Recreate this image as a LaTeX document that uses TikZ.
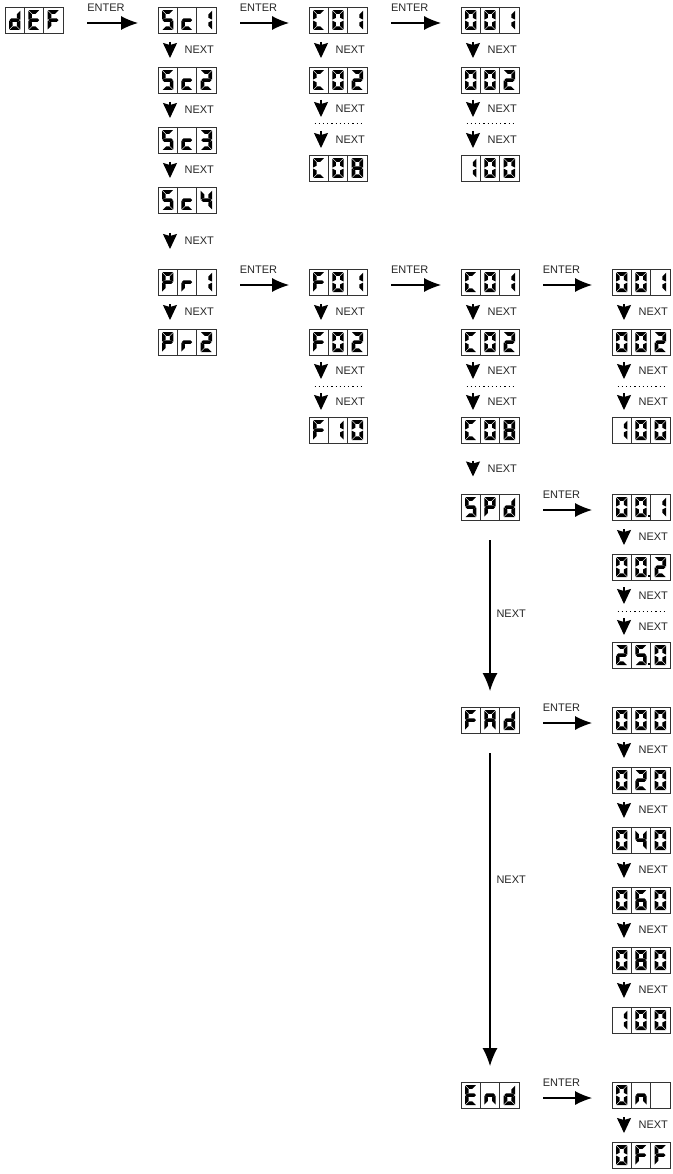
\documentclass[tikz,border=0pt]{standalone}
\usepackage{fontspec}
\setmainfont{Liberation Sans}
\usetikzlibrary{arrows.meta}

% Outlines of the seven segments of one digit cell; the origin is the
% top left corner of the cell and y grows downwards.
\newcommand{\defseg}[2]{\expandafter\def\csname lcdseg@#1\endcsname{\fill #2;}}
\defseg{a}{(4.5,3.2) -- (14.9,3.2) -- (11.3,6.8) -- (8.1,6.8) -- cycle}
\defseg{b}{(15.4,3.7) -- (11.8,7.3) -- (11.8,10.8) -- (15.4,12.6) -- cycle}
\defseg{c}{(15.4,13.6) -- (11.8,15.4) -- (11.8,18.9) -- (15.4,22.5) -- cycle}
\defseg{d}{(4.5,23) -- (14.9,23) -- (11.3,19.4) -- (8.1,19.4) -- cycle}
\defseg{e}{(4,13.6) -- (7.6,15.4) -- (7.6,18.9) -- (4,22.5) -- cycle}
\defseg{f}{(4,3.7) -- (7.6,7.3) -- (7.6,10.8) -- (4,12.6) -- cycle}
\defseg{g}{(4.5,13.1) -- (6.3,11.3) -- (13.1,11.3) -- (14.9,13.1) -- (13.1,14.9) -- (6.3,14.9) -- cycle}
\expandafter\def\csname lcdseg@z\endcsname{}

% Which segments light up for each character ('-' is an empty cell).
\newcommand{\defglyph}[2]{\expandafter\def\csname lcdglyph@#1\endcsname{#2}}
\defglyph{0}{a,b,c,d,e,f}
\defglyph{1}{b,c}
\defglyph{2}{a,b,d,e,g}
\defglyph{3}{a,b,c,d,g}
\defglyph{4}{b,c,f,g}
\defglyph{5}{a,c,d,f,g}
\defglyph{6}{a,c,d,e,f,g}
\defglyph{8}{a,b,c,d,e,f,g}
\defglyph{A}{a,b,c,e,f,g}
\defglyph{C}{a,d,e,f}
\defglyph{E}{a,d,e,f,g}
\defglyph{F}{a,e,f,g}
\defglyph{P}{a,b,e,f,g}
\defglyph{c}{d,e,g}
\defglyph{d}{b,c,d,e,g}
\defglyph{n}{c,e,g}
\defglyph{r}{e,g}
\defglyph{-}{z}

\newcommand{\lcdchar}[1]{%
  \edef\seglist{\csname lcdglyph@#1\endcsname}%
  \foreach \s in \seglist {\csname lcdseg@\s\endcsname}}

% A three digit display: [dot after the second digit]{name}{centre}{digits}
\newcommand{\lcd}[6][]{%
  \node[lcdbox] (#2) at #3 {};
  \begin{scope}[shift={(#2.north west)}]
    \draw[lcdframe] (19.33,0) -- (19.33,26) (38.67,0) -- (38.67,26);
    \lcdchar{#4}
    \begin{scope}[xshift=19.33pt]\lcdchar{#5}\end{scope}
    \begin{scope}[xshift=38.67pt]\lcdchar{#6}\end{scope}
    \ifx\relax#1\relax\else\fill (36.3,20.8) rectangle (38,23);\fi
  \end{scope}}

\tikzset{
  lcdbox/.style={draw=black!80, line width=0.9pt, minimum width=58pt,
    minimum height=26pt, inner sep=0pt, outer sep=0pt},
  lcdframe/.style={draw=black!80, line width=0.9pt},
  steplabel/.style={font=\fontsize{11}{13}\selectfont, text=black!85, inner sep=0pt},
  enterlabel/.style={steplabel, pos=0.25, anchor=south west, yshift=11pt},
  nextlabel/.style={steplabel, anchor=west, xshift=14pt},
  enterstep/.style={line width=1.1pt, -{Latex[length=17pt,width=14pt]},
    shorten <=24pt, shorten >=20pt},
  nextstep/.style={line width=1.2pt, -{Stealth[length=15pt,width=14pt,inset=2pt]},
    shorten <=#1, shorten >=#1},
  nextstep/.default=9pt,
  longstep/.style={line width=1.1pt, -{Latex[length=18pt,width=15pt]},
    shorten <=20pt, shorten >=16pt},
  dotrow/.style={line width=1pt, dash pattern=on 1.2pt off 3pt}
}

\begin{document}
\begin{tikzpicture}[x=1pt,y=-1pt]
  \useasboundingbox (0,0) rectangle (672,1174);

  % Default entry and the scene list.
  \lcd{def}{(34,20)}{d}{E}{F}
  \lcd{sc1}{(187,20)}{5}{c}{1}
  \lcd{sc2}{(187,80)}{5}{c}{2}
  \lcd{sc3}{(187,140)}{5}{c}{3}
  \lcd{sc4}{(187,200)}{5}{c}{4}
  \lcd{pr1}{(187,282)}{P}{r}{1}
  \lcd{pr2}{(187,342)}{P}{r}{2}

  % Channels of a scene and their values.
  \lcd{scch1}{(338,20)}{C}{0}{1}
  \lcd{scch2}{(338,80)}{C}{0}{2}
  \lcd{scch8}{(338,168)}{C}{0}{8}
  \lcd{scval1}{(490,20)}{0}{0}{1}
  \lcd{scval2}{(490,80)}{0}{0}{2}
  \lcd{scval100}{(490,168)}{1}{0}{0}

  % Program steps, their channels and values.
  \lcd{f01}{(338,282)}{F}{0}{1}
  \lcd{f02}{(338,342)}{F}{0}{2}
  \lcd{f10}{(338,430)}{F}{1}{0}
  \lcd{prch1}{(490,282)}{C}{0}{1}
  \lcd{prch2}{(490,342)}{C}{0}{2}
  \lcd{prch8}{(490,430)}{C}{0}{8}
  \lcd{prval1}{(641,282)}{0}{0}{1}
  \lcd{prval2}{(641,342)}{0}{0}{2}
  \lcd{prval100}{(641,430)}{1}{0}{0}

  % Speed, fade and end settings.
  \lcd{spd}{(490,507)}{5}{P}{d}
  \lcd[dot]{spd1}{(641,507)}{0}{0}{1}
  \lcd[dot]{spd2}{(641,567)}{0}{0}{2}
  \lcd[dot]{spd250}{(641,655)}{2}{5}{0}
  \lcd{fad}{(490,720)}{F}{A}{d}
  \lcd{fad0}{(641,720)}{0}{0}{0}
  \lcd{fad20}{(641,780)}{0}{2}{0}
  \lcd{fad40}{(641,840)}{0}{4}{0}
  \lcd{fad60}{(641,900)}{0}{6}{0}
  \lcd{fad80}{(641,960)}{0}{8}{0}
  \lcd{fad100}{(641,1020)}{1}{0}{0}
  \lcd{endm}{(490,1095)}{E}{n}{d}
  \lcd{endon}{(641,1095)}{0}{n}{-}
  \lcd{endoff}{(641,1155)}{0}{F}{F}

  % ENTER moves one level to the right.
  \foreach \a/\b in {def/sc1, sc1/scch1, scch1/scval1, pr1/f01, f01/prch1,
      prch1/prval1, spd/spd1, fad/fad0, endm/endon}
    \draw[enterstep] ([yshift=-3pt]\a.east) --
      node[enterlabel] {ENTER} ([yshift=-3pt]\b.west);

  % NEXT steps down a list.
  \foreach \a/\b in {sc1/sc2, sc2/sc3, sc3/sc4, pr1/pr2, scch1/scch2,
      scval1/scval2, f01/f02, prch1/prch2, prval1/prval2, spd1/spd2,
      fad0/fad20, fad20/fad40, fad40/fad60, fad60/fad80, fad80/fad100,
      endon/endoff}
    \draw[nextstep] ([xshift=12pt]\a.south west) --
      node[nextlabel] {NEXT} ([xshift=12pt]\b.north west);
  \draw[nextstep=20pt] ([xshift=12pt]sc4.south west) --
    node[nextlabel] {NEXT} ([xshift=12pt]pr1.north west);
  \draw[nextstep=17.5pt] ([xshift=12pt]prch8.south west) --
    node[nextlabel] {NEXT} ([xshift=12pt]spd.north west);

  % Skipped entries: a dotted row between two NEXT steps.
  \foreach \a/\d/\b in {scch2/cdotsA/scch8, scval2/vdotsA/scval100,
      f02/fdots/f10, prch2/cdotsB/prch8, prval2/vdotsB/prval100,
      spd2/sdots/spd250} {
    \path (\a.south) -- coordinate (\d) (\b.north);
    \draw[dotrow] ([xshift=-23.5pt]\d) -- ([xshift=23.5pt]\d);
    \draw[nextstep=7pt] ([xshift=12pt]\a.south west) --
      node[nextlabel] {NEXT} ([xshift=-17pt]\d);
    \draw[nextstep=7pt] ([xshift=-17pt]\d) --
      node[nextlabel] {NEXT} ([xshift=12pt]\b.north west);
  }

  % Long NEXT steps between the settings.
  \draw[longstep] (spd.south) --
    node[steplabel, anchor=west, xshift=6pt] {NEXT} (fad.north);
  \draw[longstep] (fad.south) --
    node[steplabel, pos=0.42, anchor=west, xshift=6pt] {NEXT} (endm.north);
\end{tikzpicture}
\end{document}
